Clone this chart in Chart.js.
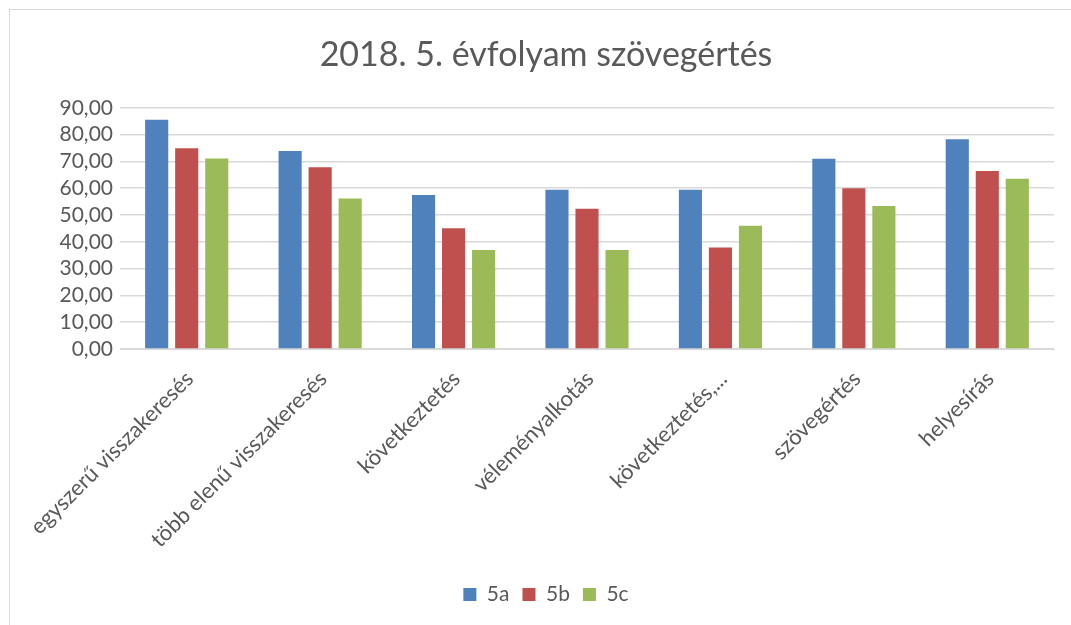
<!DOCTYPE html>
<html>
<head>
<meta charset="utf-8">
<script src="https://cdn.jsdelivr.net/npm/chart.js@4.4.0/dist/chart.umd.min.js"></script>
<style>
  html, body { margin: 0; padding: 0; background: #fff; }
  #wrap { position: relative; width: 1071px; height: 625px; overflow: hidden; }
  #frame { position: absolute; left: 9px; top: 9px; width: 1100px; height: 700px; border: 1px solid #d9d9d9; box-sizing: border-box; }
  canvas { position: absolute; left: 0; top: 0; }
</style>
</head>
<body>
<div id="wrap">
  <div id="frame"></div>
  <canvas id="chart" width="1071" height="625"></canvas>
</div>
<script>
const cimek = ['egyszerű visszakeresés', 'több elenű visszakeresés', 'következtetés', 'véleményalkotás', 'következtetés,...', 'szövegértés', 'helyesírás'];
const osztalyok = ['5a', '5b', '5c'];
const ertek5a = [85.5, 73.9, 57.5, 59.4, 59.4, 71.0, 78.3];
const ertek5b = [74.9, 67.8, 45.1, 52.3, 37.9, 60.0, 66.4];
const ertek5c = [71.1, 56.2, 36.9, 36.9, 46.0, 53.4, 63.5];
const szinek = ['#4F81BD', '#C0504D', '#9BBB59'];

const betu = 'Lato, "Open Sans", sans-serif';
const szurke = '#595959';

Chart.defaults.font.family = betu;
Chart.defaults.color = szurke;

const ctx = document.getElementById('chart').getContext('2d');
new Chart(ctx, {
  type: 'bar',
  data: {
    labels: cimek,
    datasets: [ertek5a, ertek5b, ertek5c].map((adat, i) => ({
      label: osztalyok[i],
      data: adat,
      backgroundColor: szinek[i],
      borderWidth: 0,
      categoryPercentage: 0.675,
      barPercentage: 0.77
    }))
  },
  options: {
    responsive: false,
    animation: false,
    layout: { padding: { left: 38, right: 17, top: 0, bottom: 10 } },
    plugins: {
      title: {
        display: true,
        text: '2018. 5. évfolyam szövegértés',
        font: { size: 34, weight: 'normal' },
        color: szurke,
        padding: { top: 35, bottom: 32 }
      },
      legend: {
        position: 'bottom',
        labels: { boxWidth: 13, boxHeight: 13, font: { size: 21 }, padding: 13, color: szurke }
      },
      tooltip: { enabled: false }
    },
    scales: {
      x: {
        grid: { display: false },
        border: { color: '#d9d9d9', width: 1 },
        ticks: { autoSkip: false, maxRotation: 45, minRotation: 45, font: { size: 22 }, color: szurke, padding: 9, labelOffset: 3 },
        afterFit: s => { s.height = 222; }
      },
      y: {
        min: 0,
        max: 90,
        ticks: {
          autoSkip: false,
          stepSize: 10,
          font: { size: 21 },
          color: szurke,
          padding: 7,
          callback: v => v.toFixed(2).replace('.', ',')
        },
        grid: { color: '#d9d9d9', lineWidth: 1.5, drawTicks: false },
        border: { display: false },
        afterFit: s => { s.width = 82; }
      }
    }
  }
});
</script>
</body>
</html>
